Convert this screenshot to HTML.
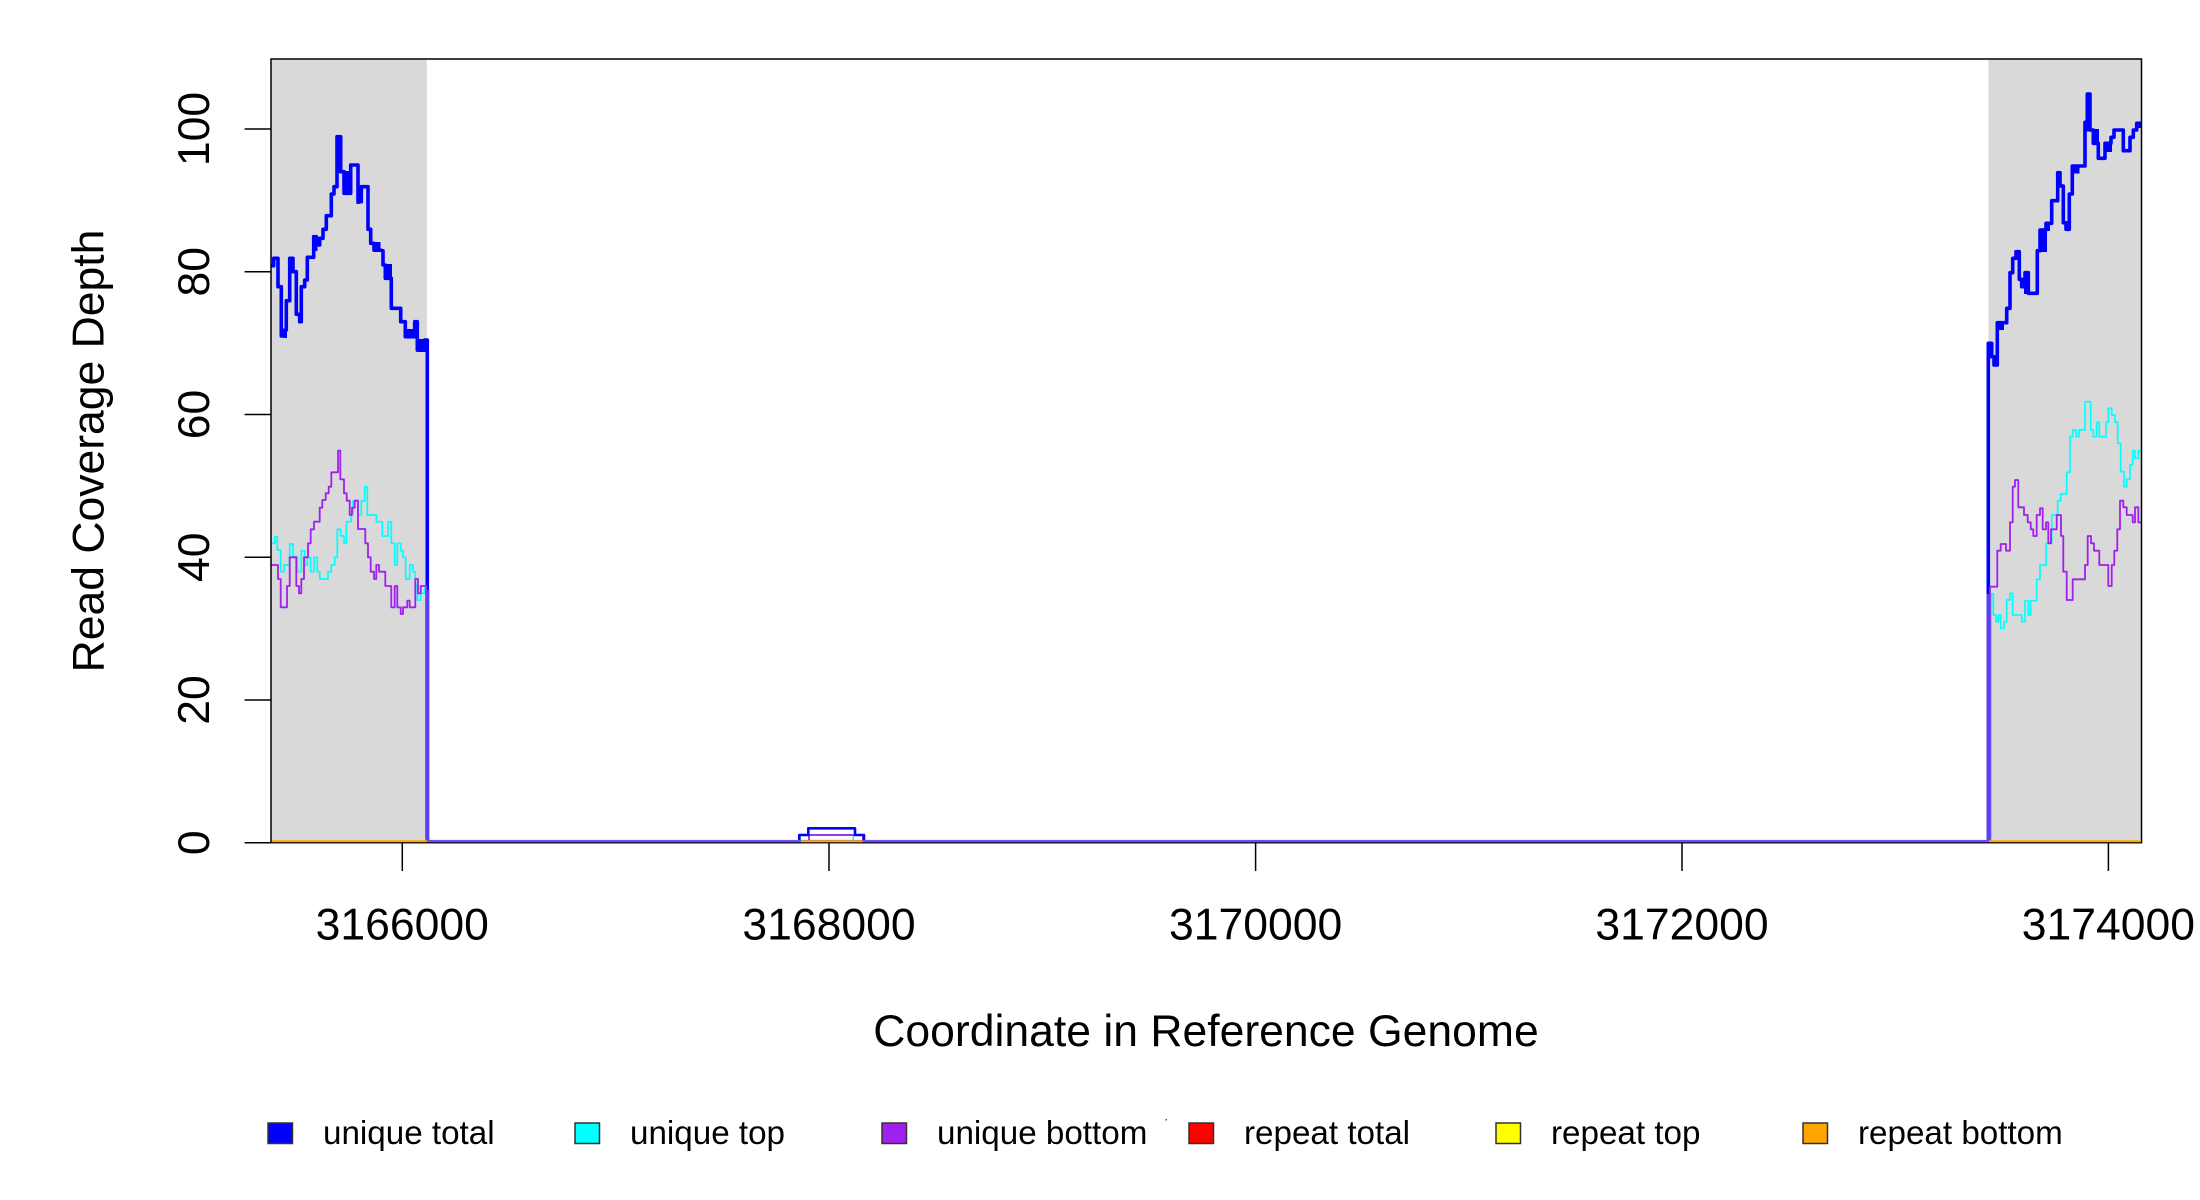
<!DOCTYPE html>
<html><head><meta charset="utf-8"><style>
html,body{margin:0;padding:0;background:#fff;}
svg{display:block;}
text{font-family:"Liberation Sans",Arial,sans-serif;fill:#000;}
</style></head><body>
<svg width="2200" height="1200" viewBox="0 0 2200 1200" xmlns="http://www.w3.org/2000/svg">
<defs><clipPath id="pc"><rect x="271" y="59" width="1870.5" height="783.7"/></clipPath></defs>
<rect x="0" y="0" width="2200" height="1200" fill="#fff"/>
<rect x="271" y="59" width="155.8" height="783.7" fill="#d9d9d9"/>
<rect x="1988.5" y="59" width="153" height="783.7" fill="#d9d9d9"/>
<g clip-path="url(#pc)" fill="none" stroke-linejoin="round" stroke-linecap="butt">
<!-- blue left -->
<polyline stroke="#0000ff" stroke-width="3.6" points="271,265.7 273.7,265.7 273.7,258.3 278,258.3 278,286.7 281.3,286.7 281.3,336 284.7,336 284.7,330 286.3,330 286.3,300.7 289.7,300.7 289.7,258.3 293,258.3 293,271.7 296.3,271.7 296.3,314.3 299.7,314.3 299.7,321.7 301.3,321.7 301.3,286.7 304.7,286.7 304.7,280 307.3,280 307.3,257.3 313.7,257.3 313.7,236.7 316.3,236.7 316.3,245 319.7,245 319.7,238.3 323,238.3 323,229.3 326.3,229.3 326.3,215.7 331.3,215.7 331.3,194 334,194 334,186.7 337,186.7 337,136.7 340.7,136.7 340.7,171.7 344,171.7 344,193.3 350.7,193.3 350.7,165 358,165 358,201.7 361.3,201.7 361.3,186.7 368,186.7 368,229.3 370.7,229.3 370.7,243.3 374,243.3 374,250 379.7,250 383,250.7 383,265 385.3,265 385.3,278.3 391.3,278.3 391.3,308.3 400.7,308.3 400.7,321.7 405.3,321.7 405.3,336.7 414.7,336.7 414.7,321.7 417.3,321.7 417.3,350 424.7,350 424.7,340 427.3,340 427.3,842.7"/>
<g fill="#0000ff" stroke="none">
<rect x="289" y="257" width="5" height="16"/>
<rect x="284" y="329" width="3" height="9"/>
<rect x="312.5" y="235" width="5" height="16"/>
<rect x="336" y="135" width="5.5" height="38"/>
<rect x="343" y="171" width="8.5" height="24"/>
<rect x="356.5" y="195" width="3" height="9"/>
<rect x="373" y="242" width="7.5" height="10"/>
<rect x="384.5" y="264" width="7.5" height="16"/>
<rect x="404.5" y="329" width="11" height="9"/>
<rect x="416.5" y="339" width="9" height="13"/>
</g>
<!-- cyan left -->
<polyline stroke="#00ffff" stroke-width="1.7" points="271,543.3 274.7,543.3 274.7,536.7 277.3,536.7 277.3,550 280.7,550 280.7,571.7 284,571.7 284,565 289.7,565 289.7,544 293,544 293,556.7 297.3,556.7 297.3,571.7 301.3,571.7 301.3,550.7 304.7,550.7 304.7,565 307.3,565 307.3,557.3 310.7,557.3 310.7,571.7 314,571.7 314,557.3 317.3,557.3 317.3,571.7 319.7,571.7 319.7,579 328,579 328,571.7 331.3,571.7 331.3,565 334.7,565 334.7,557.3 337.3,557.3 337.3,529.3 340.7,529.3 340.7,536 344,536 344,543.3 346.3,543.3 346.3,521.7 351.3,521.7 351.3,513.3 353,513.3 353,501 358,501 358,515 361.3,515 361.3,501 364.7,501 364.7,486.7 367.3,486.7 367.3,515 376.3,515 376.3,521.7 382.3,521.7 382.3,536 388,536 388,521.7 391.3,521.7 391.3,543.3 394.7,543.3 394.7,565 397.3,565 397.3,543.3 400.7,543.3 400.7,550.7 403,550.7 403,557.3 405.7,557.3 405.7,579 409.7,579 409.7,565 413,565 413,571.7 415.3,571.7 415.3,585 417.3,585 417.3,600 420.7,600 420.7,593.3 424.7,593.3 424.7,586.7 426,586.7 426,842.7"/>
<!-- purple left -->
<polyline stroke="#a020f0" stroke-width="1.8" points="271,565 278,565 278,579 280.7,579 280.7,607.3 287,607.3 287,586 289.7,586 289.7,557.3 296.3,557.3 296.3,586 299,586 299,593.3 301.3,593.3 301.3,579 304,579 304,557.3 308,557.3 308,543.3 310.7,543.3 310.7,529.3 314,529.3 314,521.7 319.7,521.7 319.7,507.7 322.3,507.7 322.3,500 325.7,500 325.7,493.3 328.7,493.3 328.7,486.7 331.3,486.7 331.3,472.3 338,472.3 338,450.7 340.3,450.7 340.3,479.3 344,479.3 344,493.3 346.7,493.3 346.7,500.7 349.7,500.7 349.7,515 352,515 352,507.7 354.7,507.7 354.7,500.7 358,500.7 358,529 365.3,529 365.3,543.3 368,543.3 368,557.3 370.7,557.3 370.7,571.7 374,571.7 374,579 376.3,579 376.3,565 379,565 379,571.7 385.3,571.7 385.3,586 391.3,586 391.3,607.3 394.7,607.3 394.7,586 397.3,586 397.3,607.3 400.7,607.3 400.7,614 403,614 403,607.3 407.3,607.3 407.3,600.7 409.7,600.7 409.7,607.3 415.3,607.3 415.3,579 418,579 418,593.3 420.7,593.3 420.7,586 426.3,586 426.3,842.7"/>
<rect x="425.3" y="590" width="4" height="252" fill="#5a40f8" stroke="none"/>
<!-- bump -->
<polyline stroke="#00ffff" stroke-width="1.7" points="800,842.7 800,835 853.3,835 853.3,842.7"/>
<polyline stroke="#a020f0" stroke-width="1.8" points="809,842.7 809,835 863,835 863,842.7"/>
<polyline stroke="#0000ff" stroke-width="2.6" points="799.3,842.7 799.3,835 808.3,835 808.3,828.3 855,828.3 855,835 864,835 864,842.7"/>
<!-- blue right -->
<polyline stroke="#0000ff" stroke-width="3.6" points="1988.3,842.7 1988.3,343.3 1991.7,343.3 1991.7,356.7 1994,356.7 1994,365 1997.3,365 1997.3,322.7 2006.7,322.7 2006.7,308.3 2010,308.3 2010,272.7 2012.7,272.7 2012.7,258.3 2016,258.3 2016,251.7 2019.3,251.7 2019.3,279.3 2021.7,279.3 2021.7,286.7 2025,286.7 2025,272.7 2028.3,272.7 2028.3,293.3 2037.3,293.3 2037.3,250.7 2040,250.7 2040,230 2046,230 2046,223.3 2051.7,223.3 2051.7,200.7 2057.7,200.7 2057.7,172.7 2060,172.7 2060,186 2063.3,186 2063.3,222.7 2066,222.7 2066,229.3 2069.3,229.3 2069.3,194 2072.3,194 2072.3,166 2085,166 2085,122.3 2087.3,122.3 2087.3,94 2090,94 2090,130 2093.3,130 2093.3,143.3 2098.3,143.3 2098.3,158.3 2105,158.3 2105,143.3 2111,143.3 2111,137.3 2114,137.3 2114,130 2123.3,130 2123.3,150.7 2130,150.7 2130,137.3 2133.3,137.3 2133.3,130 2136.7,130 2136.7,123.3 2142,123.3"/>
<g fill="#0000ff" stroke="none">
<rect x="1997" y="321" width="7" height="9"/>
<rect x="2024" y="271" width="5.5" height="23"/>
<rect x="2039" y="229" width="8" height="23"/>
<rect x="2045" y="222" width="5" height="9"/>
<rect x="2071.5" y="165" width="8" height="8.5"/>
<rect x="2086.5" y="92.5" width="4.5" height="39"/>
<rect x="2092.5" y="129" width="6.5" height="16"/>
<rect x="2104" y="142" width="8" height="10"/>
<rect x="2136" y="122" width="6" height="6"/>
</g>
<!-- cyan right -->
<polyline stroke="#00ffff" stroke-width="1.7" points="1991,842.7 1991,594 1993.3,594 1993.3,615 1996,615 1996,621.7 1998.3,621.7 1998.3,615 2000.7,615 2000.7,628.3 2004,628.3 2004,621.7 2006.7,621.7 2006.7,600 2010,600 2010,593.3 2012.7,593.3 2012.7,615 2021.7,615 2021.7,621.7 2025,621.7 2025,600.7 2028.3,600.7 2028.3,615 2030.7,615 2030.7,600.7 2036.7,600.7 2036.7,579.3 2040,579.3 2040,565 2046,565 2046,543.3 2051.7,543.3 2051.7,515 2057.7,515 2057.7,500.7 2060.7,500.7 2060.7,494 2066.7,494 2066.7,472.3 2070,472.3 2070,436.7 2072.7,436.7 2072.7,430 2076,430 2076,436.7 2079,436.7 2079,430 2085,430 2085,401.7 2090.7,401.7 2090.7,430 2093.3,430 2093.3,436.7 2096.7,436.7 2096.7,422.3 2099.3,422.3 2099.3,436.7 2106,436.7 2106,422.3 2108.3,422.3 2108.3,408.3 2111.7,408.3 2111.7,415 2115,415 2115,422.3 2117.7,422.3 2117.7,443.3 2120.7,443.3 2120.7,471.7 2124,471.7 2124,486.7 2126.7,486.7 2126.7,479.3 2130,479.3 2130,465 2132.7,465 2132.7,450.7 2135,450.7 2135,458.3 2138.3,458.3 2138.3,450.7 2142,450.7"/>
<!-- purple right -->
<polyline stroke="#a020f0" stroke-width="1.8" points="1990,842.7 1990,586.7 1997.3,586.7 1997.3,550.7 2000.7,550.7 2000.7,544 2006,544 2006,550.7 2010,550.7 2010,522.3 2012.7,522.3 2012.7,486.7 2015,486.7 2015,480 2018.3,480 2018.3,507.3 2024,507.3 2024,515 2027.7,515 2027.7,522.3 2030.7,522.3 2030.7,529.3 2033.3,529.3 2033.3,536 2036.7,536 2036.7,515 2040,515 2040,508.3 2042.7,508.3 2042.7,529.3 2046,529.3 2046,522.3 2048.3,522.3 2048.3,543.3 2051,543.3 2051,529.3 2056.7,529.3 2056.7,515 2061,515 2061,536 2063.3,536 2063.3,571.7 2066.7,571.7 2066.7,600 2072.7,600 2072.7,579.3 2085,579.3 2085,565 2087.7,565 2087.7,536 2091,536 2091,543.3 2094,543.3 2094,550.7 2099.3,550.7 2099.3,565 2108.3,565 2108.3,586 2111.7,586 2111.7,565 2114.3,565 2114.3,550.7 2117.3,550.7 2117.3,529.3 2120,529.3 2120,500.7 2123.3,500.7 2123.3,507.3 2126.7,507.3 2126.7,515 2132.7,515 2132.7,522.3 2135,522.3 2135,507.3 2138.3,507.3 2138.3,522.3 2142,522.3"/>
<rect x="1986.5" y="594" width="4" height="248" fill="#5a40f8" stroke="none"/>
</g>
<!-- box -->
<rect x="271" y="59" width="1870.5" height="783.7" fill="none" stroke="#000" stroke-width="1.5"/>
<!-- zero lines drawn over box bottom -->
<rect x="427" y="839.9" width="1562" height="2.4" fill="#6a4df5"/>
<rect x="272" y="840.2" width="155" height="2" fill="#ffa500"/>
<rect x="1989" y="840.2" width="152" height="2" fill="#ffa500"/>
<rect x="801" y="840.2" width="61.5" height="2" fill="#ffa500"/>
<!-- axis ticks -->
<g stroke="#000" stroke-width="1.5">
<line x1="244.6" y1="842.7" x2="271" y2="842.7"/>
<line x1="244.6" y1="700" x2="271" y2="700"/>
<line x1="244.6" y1="557.2" x2="271" y2="557.2"/>
<line x1="244.6" y1="414.5" x2="271" y2="414.5"/>
<line x1="244.6" y1="271.7" x2="271" y2="271.7"/>
<line x1="244.6" y1="129" x2="271" y2="129"/>
<line x1="402.3" y1="843.5" x2="402.3" y2="871"/>
<line x1="829" y1="843.5" x2="829" y2="871"/>
<line x1="1255.6" y1="843.5" x2="1255.6" y2="871"/>
<line x1="1682" y1="843.5" x2="1682" y2="871"/>
<line x1="2108.4" y1="843.5" x2="2108.4" y2="871"/>
</g>
<g font-size="44.5" text-anchor="middle">
<text transform="translate(209,842.7) rotate(-90)">0</text>
<text transform="translate(209,700) rotate(-90)">20</text>
<text transform="translate(209,557.2) rotate(-90)">40</text>
<text transform="translate(209,414.5) rotate(-90)">60</text>
<text transform="translate(209,271.7) rotate(-90)">80</text>
<text transform="translate(209,129) rotate(-90)">100</text>
<text x="402.3" y="939.3">3166000</text>
<text x="829" y="939.3">3168000</text>
<text x="1255.6" y="939.3">3170000</text>
<text x="1682" y="939.3">3172000</text>
<text x="2108.4" y="939.3">3174000</text>
<text x="1206" y="1046">Coordinate in Reference Genome</text>
<text transform="translate(103.6,451) rotate(-90)">Read Coverage Depth</text>
</g>
<!-- legend -->
<g stroke="#333" stroke-width="1.5">
<rect x="268" y="1123" width="24.5" height="20.5" fill="#0000ff"/>
<rect x="575" y="1123" width="24.5" height="20.5" fill="#00ffff"/>
<rect x="882" y="1123" width="24.5" height="20.5" fill="#a020f0"/>
<rect x="1189" y="1123" width="24.5" height="20.5" fill="#ff0000"/>
<rect x="1496" y="1123" width="24.5" height="20.5" fill="#ffff00"/>
<rect x="1803" y="1123" width="24.5" height="20.5" fill="#ffa500"/>
</g>
<rect x="1165.5" y="1119" width="1.5" height="1.5" fill="#555"/>
<g font-size="33.2">
<text x="323" y="1144">unique total</text>
<text x="630" y="1144">unique top</text>
<text x="937" y="1144">unique bottom</text>
<text x="1244" y="1144">repeat total</text>
<text x="1551" y="1144">repeat top</text>
<text x="1858" y="1144">repeat bottom</text>
</g>
</svg>
</body></html>
